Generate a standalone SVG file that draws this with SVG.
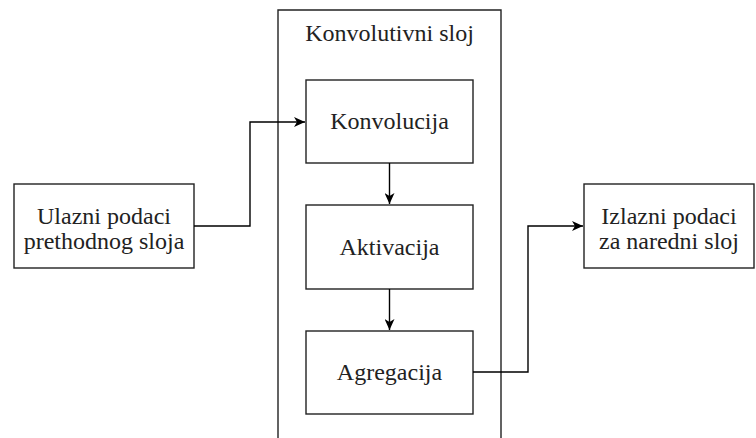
<svg xmlns="http://www.w3.org/2000/svg" width="756" height="438" viewBox="0 0 756 438">
<style>
.box{fill:#fff;stroke:#222;stroke-width:1.4}
.t{font-family:"Liberation Serif","DejaVu Serif",serif;font-size:24px;fill:#222;text-anchor:middle}
.c{fill:none;stroke:#000;stroke-width:1.4}
</style>
<defs>
<marker id="a" viewBox="0 0 11 10" refX="11" refY="5" markerWidth="11" markerHeight="10" markerUnits="userSpaceOnUse" orient="auto">
<path d="M0,0 L11,5 L0,10 L3,5 Z" fill="#000"/>
</marker>
</defs>
<rect width="756" height="438" fill="#fff"/>
<g id="layer">
<path class="box" d="M278,450 L278,10 L501,10 L501,450"/>
<text class="t" x="389.5" y="41">Konvolutivni sloj</text>
</g>
<g id="input">
<rect class="box" x="14" y="184" width="180" height="84"/>
<text class="t" x="104" y="224">Ulazni podaci</text>
<text class="t" x="104" y="249">prethodnog sloja</text>
</g>
<g id="output">
<rect class="box" x="584" y="184" width="170" height="84"/>
<text class="t" x="669" y="224">Izlazni podaci</text>
<text class="t" x="669" y="249">za naredni sloj</text>
</g>
<g id="konv">
<rect class="box" x="306" y="80" width="167" height="83"/>
<text class="t" x="389.5" y="129">Konvolucija</text>
</g>
<g id="akt">
<rect class="box" x="306" y="205" width="167" height="84"/>
<text class="t" x="389.5" y="255">Aktivacija</text>
</g>
<g id="agr">
<rect class="box" x="306" y="331" width="167" height="83"/>
<text class="t" x="389.5" y="380">Agregacija</text>
</g>
<g id="connectors">
<path class="c" d="M194,226 L250,226 L250,122 L305,122" marker-end="url(#a)"/>
<path class="c" d="M389.5,163 L389.5,204" marker-end="url(#a)"/>
<path class="c" d="M389.5,289 L389.5,330" marker-end="url(#a)"/>
<path class="c" d="M473,372 L528,372 L528,226 L583,226" marker-end="url(#a)"/>
</g>
</svg>
